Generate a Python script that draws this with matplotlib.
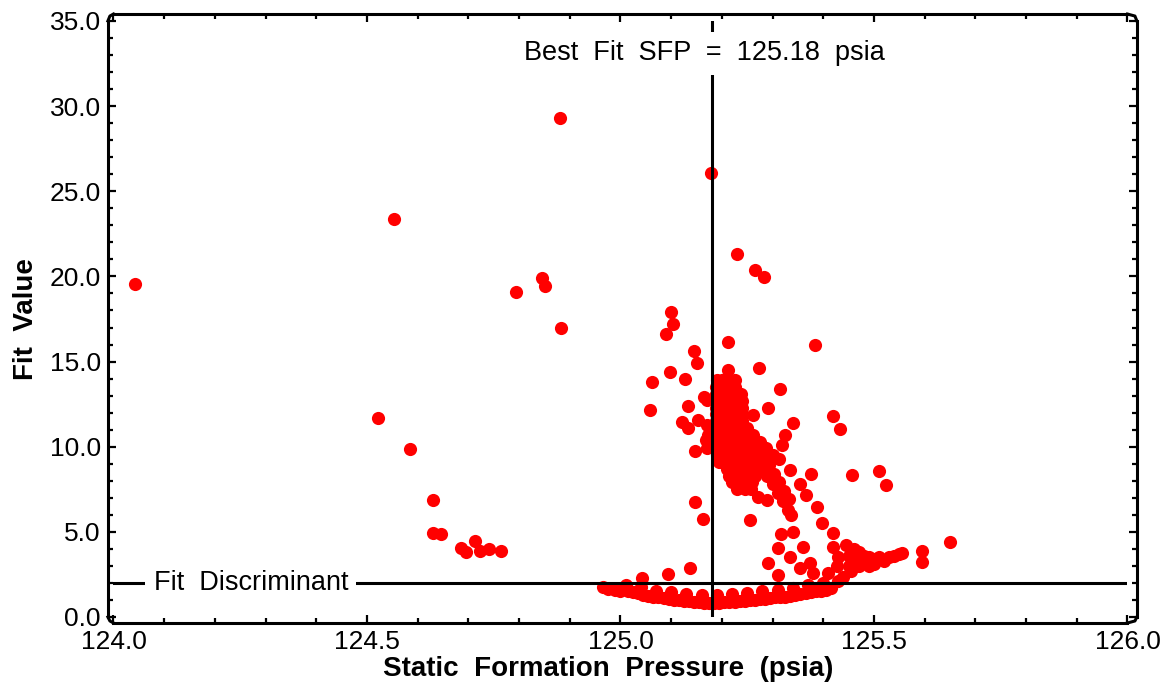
import matplotlib
matplotlib.use('Agg')
import matplotlib.pyplot as plt
from matplotlib.lines import Line2D
from matplotlib.ticker import MultipleLocator, FormatStrFormatter

plt.rcParams['font.family'] = ['Liberation Sans', 'DejaVu Sans']

best_fit_sfp = 125.18
fit_discriminant = 2.0

# isolated points away from the main cloud
sparse_x = [124.042, 124.553, 124.522, 124.585, 124.630, 124.630, 124.646, 124.686,
            124.696, 124.713, 124.723, 124.741, 124.765, 124.794, 124.845, 124.851,
            124.881, 124.883, 125.178, 125.230, 125.265, 125.283, 125.384, 125.419,
            125.433, 125.456, 125.510, 125.524, 125.650, 125.595, 125.595]
sparse_y = [19.55, 23.37, 11.69, 9.86, 6.87, 4.93, 4.87, 4.05,
            3.82, 4.46, 3.88, 3.99, 3.88, 19.08, 19.90, 19.44,
            29.30, 17.00, 26.07, 21.30, 20.40, 19.97, 15.97, 11.80,
            11.04, 8.34, 8.57, 7.75, 4.40, 3.85, 3.25]

# scattered points around the best fit line
around_x = [125.100, 125.104, 125.090, 125.212, 125.145, 125.150, 125.098, 125.273,
            125.062, 125.127, 125.058, 125.133, 125.170, 125.121, 125.133, 125.153,
            125.172, 125.148, 125.147, 125.163, 125.256, 125.165, 125.170, 125.170,
            125.168, 125.291, 125.261, 125.315, 125.340, 125.324, 125.318, 125.313,
            125.334, 125.375, 125.354, 125.366, 125.387, 125.397, 125.419, 125.419,
            125.340, 125.317, 125.271, 125.289, 125.212, 125.226,
            125.280, 125.290, 125.300, 125.310, 125.320, 125.330, 125.336,
            125.292, 125.302, 125.312, 125.322, 125.332,
            125.311, 125.334, 125.291, 125.360, 125.374, 125.354, 125.380, 125.410,
            125.439, 125.311, 125.138, 125.094, 125.042, 125.428, 125.430]
around_y = [17.90, 17.20, 16.60, 16.15, 15.60, 14.90, 14.40, 14.60,
            13.80, 14.00, 12.15, 12.40, 12.74, 11.45, 11.10, 11.57,
            10.70, 9.75, 6.75, 5.75, 5.70, 12.90, 11.30, 9.90,
            10.40, 12.27, 11.85, 13.40, 11.40, 10.70, 10.10, 9.28,
            8.63, 8.40, 7.80, 7.16, 6.46, 5.52, 4.93, 4.10,
            4.99, 4.87, 7.05, 6.87, 14.50, 13.90,
            8.80, 8.30, 7.80, 7.30, 6.80, 6.30, 6.00,
            8.90, 8.40, 7.90, 7.40, 6.90,
            4.05, 3.52, 3.17, 4.10, 3.17, 2.90, 2.58, 2.58,
            2.35, 2.46, 2.90, 2.55, 2.30, 3.00, 3.50]

# dense cloud just right of the best fit line
blob_x = [125.190, 125.200, 125.215,
          125.188, 125.200, 125.212, 125.225,
          125.188, 125.200, 125.212, 125.228, 125.238,
          125.188, 125.200, 125.212, 125.228, 125.240,
          125.188, 125.200, 125.212, 125.228, 125.240,
          125.188, 125.200, 125.212, 125.228, 125.240,
          125.188, 125.200, 125.212, 125.225, 125.240,
          125.188, 125.200, 125.212, 125.225, 125.240, 125.250,
          125.188, 125.200, 125.212, 125.225, 125.237, 125.250, 125.262,
          125.188, 125.200, 125.212, 125.225, 125.237, 125.250, 125.262, 125.275,
          125.188, 125.200, 125.212, 125.225, 125.237, 125.250, 125.262, 125.275, 125.288,
          125.190, 125.200, 125.212, 125.225, 125.237, 125.250, 125.262, 125.275, 125.290, 125.300,
          125.195, 125.207, 125.220, 125.232, 125.245, 125.258, 125.270, 125.285,
          125.210, 125.222, 125.235, 125.248, 125.260, 125.272, 125.285,
          125.215, 125.228, 125.240, 125.252, 125.265,
          125.220, 125.235, 125.248, 125.260,
          125.230, 125.245, 125.258]
blob_y = [13.9, 13.9, 13.9,
          13.5, 13.5, 13.5, 13.5,
          13.1, 13.1, 13.1, 13.1, 13.1,
          12.7, 12.7, 12.7, 12.7, 12.7,
          12.3, 12.3, 12.3, 12.3, 12.3,
          11.9, 11.9, 11.9, 11.9, 11.9,
          11.5, 11.5, 11.5, 11.5, 11.5,
          11.1, 11.1, 11.1, 11.1, 11.1, 11.1,
          10.7, 10.7, 10.7, 10.7, 10.7, 10.7, 10.7,
          10.3, 10.3, 10.3, 10.3, 10.3, 10.3, 10.3, 10.3,
          9.9, 9.9, 9.9, 9.9, 9.9, 9.9, 9.9, 9.9, 9.9,
          9.5, 9.5, 9.5, 9.5, 9.5, 9.5, 9.5, 9.5, 9.5, 9.5,
          9.1, 9.1, 9.1, 9.1, 9.1, 9.1, 9.1, 9.1,
          8.7, 8.7, 8.7, 8.7, 8.7, 8.7, 8.7,
          8.3, 8.3, 8.3, 8.3, 8.3,
          7.9, 7.9, 7.9, 7.9,
          7.5, 7.5, 7.5]

# low band just under the discriminant
band_x = [124.965, 124.975, 124.990, 125.000, 125.015, 125.025, 125.035, 125.045,
          125.055, 125.065, 125.075, 125.085, 125.095, 125.105, 125.115, 125.125,
          125.135, 125.145, 125.155, 125.165, 125.175, 125.185, 125.195, 125.205,
          125.215, 125.225, 125.235, 125.245, 125.255, 125.265, 125.275, 125.285,
          125.295, 125.305, 125.315, 125.325, 125.335, 125.345, 125.355, 125.365,
          125.375, 125.385, 125.395, 125.405, 125.415,
          125.010, 125.040, 125.070, 125.100, 125.130, 125.160, 125.190, 125.220,
          125.250, 125.280, 125.310, 125.340, 125.370, 125.400, 125.430]
band_y = [1.75, 1.65, 1.60, 1.55, 1.50, 1.45, 1.40, 1.30,
          1.25, 1.20, 1.15, 1.10, 1.05, 1.00, 1.00, 0.95,
          0.95, 0.90, 0.90, 0.85, 0.85, 0.85, 0.85, 0.90,
          0.90, 0.90, 0.95, 0.95, 1.00, 1.00, 1.05, 1.05,
          1.10, 1.15, 1.20, 1.20, 1.25, 1.30, 1.35, 1.40,
          1.45, 1.50, 1.55, 1.60, 1.70,
          1.90, 1.75, 1.55, 1.45, 1.35, 1.30, 1.30, 1.35,
          1.40, 1.50, 1.60, 1.70, 1.85, 2.00, 2.10]

# tail at the right, around 3-4
tail_x = [125.445, 125.450, 125.450, 125.455, 125.460, 125.460, 125.470, 125.470,
          125.480, 125.480, 125.490, 125.490, 125.500, 125.500, 125.510, 125.520,
          125.530, 125.540, 125.550, 125.555]
tail_y = [4.20, 3.60, 3.00, 2.70, 4.00, 3.30, 3.80, 3.00,
          3.60, 3.20, 3.50, 3.00, 3.40, 3.10, 3.50, 3.30,
          3.50, 3.60, 3.70, 3.75]

pressure = sparse_x + around_x + blob_x + band_x + tail_x
fit_value = sparse_y + around_y + blob_y + band_y + tail_y

fig = plt.figure(figsize=(11.72, 6.88), dpi=100)
ax = fig.add_axes([0.0968, 0.1032, 0.8652, 0.8663])

ax.scatter(pressure, fit_value, s=90, c='#ff0000', linewidths=0, zorder=2)

ax.axvline(best_fit_sfp, color='black', lw=2.2, zorder=3)
ax.axhline(fit_discriminant, color='black', lw=2.2, zorder=3)

ax.text(best_fit_sfp - 0.015, 33.1, 'Best  Fit  SFP  =  125.18  psia', ha='center', va='center',
        fontsize=19.5, zorder=4, bbox=dict(facecolor='white', edgecolor='none', pad=6))
ax.text(124.271, fit_discriminant, 'Fit  Discriminant', ha='center', va='center',
        fontsize=19.5, zorder=4, bbox=dict(facecolor='white', edgecolor='none', pad=6))

ax.set_xlim(124.0, 126.0)
ax.set_ylim(0, 35)
ax.xaxis.set_major_locator(MultipleLocator(0.5))
ax.xaxis.set_minor_locator(MultipleLocator(0.1))
ax.yaxis.set_major_locator(MultipleLocator(5))
ax.yaxis.set_minor_locator(MultipleLocator(1))
ax.xaxis.set_major_formatter(FormatStrFormatter('%.1f'))
ax.yaxis.set_major_formatter(FormatStrFormatter('%.1f'))

# spines pulled away from the data area, like the original
ax.spines['left'].set_position(('outward', 4))
ax.spines['bottom'].set_position(('outward', 4.3))
ax.spines['top'].set_position(('outward', 5))
ax.spines['right'].set_position(('outward', 6.8))
for sp in ax.spines.values():
    sp.set_linewidth(2.2)

ax.tick_params(which='both', direction='in', top=True, right=True, width=1.6,
               labelsize=19, pad=5)
ax.tick_params(which='major', length=6)
ax.tick_params(which='minor', length=3.5)

ax.set_xlabel('Static  Formation  Pressure  (psia)', fontsize=20, fontweight='bold')
ax.xaxis.set_label_coords(0.488, -0.066)
ax.set_ylabel('Fit  Value', fontsize=20, fontweight='bold', labelpad=8)

# small jogs joining the offset spines at the corners
x0, y0 = ax.transAxes.transform((0, 0))
x1, y1 = ax.transAxes.transform((1, 1))
dl, db, dt, dr = 4 / 0.72, 4.3 / 0.72, 5 / 0.72, 6.8 / 0.72
corners = [
    ([x0 - dl, x0 - dl + 2, x0], [y0, y0 - db + 2, y0 - db]),
    ([x0 - dl, x0 - dl + 2, x0], [y1, y1 + dt - 2, y1 + dt]),
    ([x1 + dr, x1 + dr - 2, x1], [y1, y1 + dt - 2, y1 + dt]),
    ([x1 + dr, x1 + dr - 2, x1], [y0, y0 - db + 2, y0 - db]),
]
for cx, cy in corners:
    fig.add_artist(Line2D(cx, cy, transform=None, color='black', lw=2.2))

fig.savefig('out.png', dpi=100)
